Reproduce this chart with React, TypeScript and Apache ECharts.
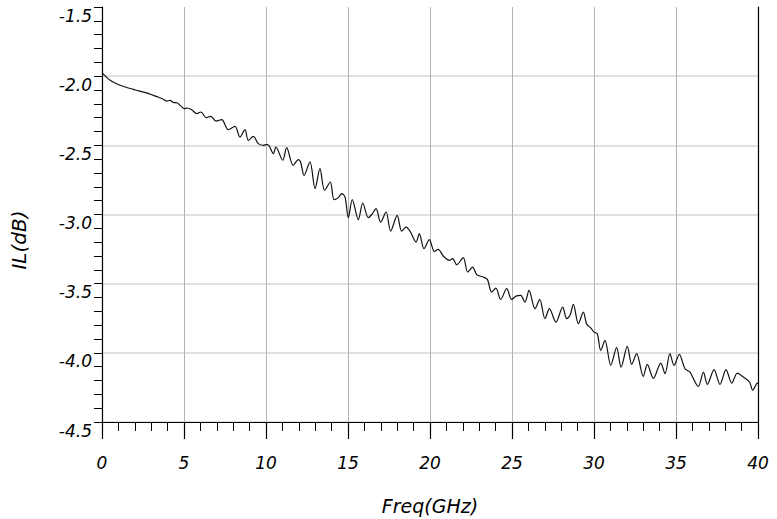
import React, { useEffect, useRef } from "react";
import * as echarts from "echarts";

// Frequency (GHz) and insertion loss (dB)
const freq = [
  0.0, 0.25, 0.5, 0.8, 1.1, 1.5, 1.9, 2.3, 2.7, 3.1, 3.4, 3.65, 3.95, 4.15, 4.35, 4.6, 4.8,
  5.02, 5.2, 5.47, 5.77, 6.04, 6.34, 6.63, 6.95, 7.3, 7.7, 8.11, 8.41, 8.72, 8.92, 9.23, 9.53,
  9.84, 10.04, 10.2, 10.45, 10.6, 11.02, 11.26, 11.66, 11.97, 12.11, 12.32, 12.68, 12.99,
  13.29, 13.57, 13.92, 14.15, 14.41, 14.62, 14.82, 15.02, 15.26, 15.63, 15.9, 16.24, 16.45,
  16.71, 16.99, 17.32, 17.6, 18.0, 18.27, 18.54, 18.78, 19.15, 19.35, 19.63, 19.96, 20.27,
  20.5, 20.81, 21.18, 21.38, 21.63, 22.03, 22.3, 22.6, 22.85, 23.25, 23.5, 23.76, 24.02,
  24.31, 24.68, 24.98, 25.24, 25.53, 25.79, 26.04, 26.4, 26.69, 27.01, 27.28, 27.68, 28.09,
  28.34, 28.54, 28.74, 29.05, 29.35, 29.56, 29.8, 30.0, 30.2, 30.41, 30.67, 31.02, 31.38,
  31.65, 32.03, 32.3, 32.6, 33.0, 33.25, 33.62, 34.07, 34.33, 34.63, 34.88, 35.2, 35.55,
  35.85, 36.36, 36.67, 36.91, 37.32, 37.68, 38.05, 38.4, 38.74, 39.11, 39.48, 39.68, 39.92,
  40.0,
];
const il = [
  -1.975, -2.005, -2.03, -2.05, -2.066, -2.082, -2.095, -2.108, -2.121, -2.137, -2.15, -2.162,
  -2.18, -2.175, -2.19, -2.194, -2.215, -2.235, -2.23, -2.242, -2.271, -2.259, -2.3, -2.29,
  -2.325, -2.314, -2.387, -2.363, -2.44, -2.387, -2.464, -2.435, -2.488, -2.5, -2.493, -2.505,
  -2.56, -2.512, -2.608, -2.517, -2.645, -2.603, -2.62, -2.717, -2.62, -2.813, -2.668, -2.825,
  -2.765, -2.893, -2.878, -2.849, -2.874, -3.023, -2.893, -3.037, -2.917, -3.023, -3.0,
  -2.958, -3.055, -2.982, -3.12, -3.006, -3.12, -3.091, -3.12, -3.199, -3.138, -3.247,
  -3.182, -3.268, -3.252, -3.3, -3.332, -3.319, -3.363, -3.312, -3.416, -3.38, -3.435,
  -3.452, -3.469, -3.561, -3.532, -3.614, -3.536, -3.614, -3.59, -3.585, -3.633, -3.549,
  -3.681, -3.614, -3.753, -3.681, -3.778, -3.669, -3.753, -3.729, -3.65, -3.789, -3.705,
  -3.794, -3.82, -3.85, -3.862, -3.982, -3.91, -4.09, -3.963, -4.103, -3.953, -4.083, -4.006,
  -4.17, -4.083, -4.185, -4.074, -4.151, -4.006, -4.091, -4.011, -4.115, -4.139, -4.243,
  -4.139, -4.228, -4.122, -4.228, -4.122, -4.219, -4.146, -4.175, -4.211, -4.271, -4.223,
  -4.219,
];

const xAxisName = "Freq(GHz)";
const yAxisName = "IL(dB)";

const labelFont = {
  fontFamily: "DejaVu Sans",
  fontStyle: "italic" as const,
  fontSize: 17,
  color: "#000",
};

export default function App() {
  const ref = useRef<HTMLDivElement>(null);

  useEffect(() => {
    if (!ref.current) return;
    const chart = echarts.init(ref.current, null, { renderer: "svg" });
    const data = freq.map((f, i) => [f, il[i]]);
    chart.setOption({
      animation: false,
      backgroundColor: "#fff",
      grid: { left: 102, right: 19, top: 7, bottom: 97 },
      xAxis: {
        type: "value",
        min: 0,
        max: 40,
        interval: 5,
        axisLine: { show: true, onZero: false, lineStyle: { color: "#000", width: 1 } },
        axisTick: { show: true, length: 17, lineStyle: { color: "#000", width: 1.2 } },
        minorTick: { show: true, splitNumber: 5, length: 9, lineStyle: { color: "#000", width: 1 } },
        splitLine: { show: true, lineStyle: { color: "#b4b4b4", width: 1 } },
        axisLabel: { ...labelFont, margin: 32, showMinLabel: true, showMaxLabel: true },
      },
      yAxis: [
        {
          type: "value",
          min: -4.5,
          max: -1.5,
          interval: 0.5,
          axisLine: { show: true, onZero: false, lineStyle: { color: "#000", width: 1.2 } },
          axisTick: { show: true, length: 8, lineStyle: { color: "#000", width: 1 } },
          minorTick: { show: true, splitNumber: 5, length: 8, lineStyle: { color: "#000", width: 1 } },
          splitLine: {
            show: true,
            showMaxLine: false,
            lineStyle: { color: "#d6d6d6", width: 1.5 },
          },
          axisLabel: {
            ...labelFont,
            margin: 10,
            verticalAlign: "top",
            showMinLabel: true,
            showMaxLabel: true,
            formatter: (v: number) => v.toFixed(1),
          },
        },
        {
          type: "value",
          position: "right",
          min: -4.5,
          max: -1.5,
          axisLine: { show: true, onZero: false, lineStyle: { color: "#000", width: 1.2 } },
          axisTick: { show: false },
          axisLabel: { show: false },
          splitLine: { show: false },
        },
      ],
      graphic: [
        {
          type: "text",
          x: 19,
          y: 240,
          rotation: Math.PI / 2,
          style: {
            text: yAxisName,
            fontFamily: "DejaVu Sans",
            fontStyle: "italic",
            fontSize: 20,
            fill: "#000",
            align: "center",
            verticalAlign: "middle",
          },
        },
        {
          type: "text",
          x: 430,
          y: 506,
          style: {
            text: xAxisName,
            fontFamily: "DejaVu Sans",
            fontStyle: "italic",
            fontSize: 19,
            fill: "#000",
            align: "center",
            verticalAlign: "middle",
          },
        },
      ],
      series: [
        {
          type: "line",
          data,
          xAxisIndex: 0,
          yAxisIndex: 0,
          showSymbol: false,
          smooth: 0.3,
          lineStyle: { color: "#111", width: 1.2 },
        },
      ],
    });
    return () => chart.dispose();
  }, []);

  return (
    <div
      ref={ref}
      style={{ position: "fixed", left: 0, top: 0, width: 777, height: 519, background: "#fff" }}
    />
  );
}
